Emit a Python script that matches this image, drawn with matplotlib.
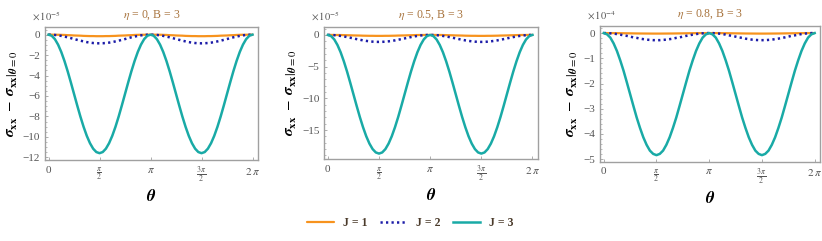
import numpy as np
import matplotlib
matplotlib.use("Agg")
import matplotlib.pyplot as plt
from matplotlib.ticker import AutoMinorLocator

plt.rcParams['font.family'] = ['Liberation Serif', 'DejaVu Serif']
plt.rcParams['mathtext.fontset'] = 'stix'

# theta sampled every pi/32 over [0, 2pi]  (65 points)
theta = np.arange(65) * np.pi / 32

# panel 1: eta = 0 (units of 1e-5)
p1_j1 = [0, 0, -0.01, -0.01, -0.02, -0.03, -0.05, -0.06, -0.08, -0.09, -0.10, -0.12, -0.13, -0.14, -0.14, -0.15, -0.15,
         -0.15, -0.14, -0.14, -0.13, -0.12, -0.10, -0.09, -0.08, -0.06, -0.05, -0.03, -0.02, -0.01, -0.01, 0, 0,
         0, -0.01, -0.01, -0.02, -0.03, -0.05, -0.06, -0.08, -0.09, -0.10, -0.12, -0.13, -0.14, -0.14, -0.15, -0.15,
         -0.15, -0.14, -0.14, -0.13, -0.12, -0.10, -0.09, -0.08, -0.06, -0.05, -0.03, -0.02, -0.01, -0.01, 0, 0]
p1_j2 = [0, -0.01, -0.03, -0.07, -0.12, -0.19, -0.26, -0.34, -0.43, -0.51, -0.59, -0.66, -0.73, -0.78, -0.82, -0.84, -0.85,
         -0.84, -0.82, -0.78, -0.73, -0.66, -0.59, -0.51, -0.43, -0.34, -0.26, -0.19, -0.12, -0.07, -0.03, -0.01, 0,
         -0.01, -0.03, -0.07, -0.12, -0.19, -0.26, -0.34, -0.43, -0.51, -0.59, -0.66, -0.73, -0.78, -0.82, -0.84, -0.85,
         -0.84, -0.82, -0.78, -0.73, -0.66, -0.59, -0.51, -0.43, -0.34, -0.26, -0.19, -0.12, -0.07, -0.03, -0.01, 0]
p1_j3 = [0, -0.11, -0.44, -0.98, -1.70, -2.58, -3.58, -4.67, -5.80, -6.93, -8.02, -9.02, -9.90, -10.62, -11.16, -11.49, -11.60,
         -11.49, -11.16, -10.62, -9.90, -9.02, -8.02, -6.93, -5.80, -4.67, -3.58, -2.58, -1.70, -0.98, -0.44, -0.11, 0,
         -0.11, -0.44, -0.98, -1.70, -2.58, -3.58, -4.67, -5.80, -6.93, -8.02, -9.02, -9.90, -10.62, -11.16, -11.49, -11.60,
         -11.49, -11.16, -10.62, -9.90, -9.02, -8.02, -6.93, -5.80, -4.67, -3.58, -2.58, -1.70, -0.98, -0.44, -0.11, 0]

# panel 2: eta = 0.5 (units of 1e-5)
p2_j1 = [0, 0, -0.01, -0.01, -0.02, -0.03, -0.05, -0.06, -0.08, -0.09, -0.10, -0.12, -0.13, -0.14, -0.14, -0.15, -0.15,
         -0.15, -0.14, -0.14, -0.13, -0.12, -0.10, -0.09, -0.08, -0.06, -0.05, -0.03, -0.02, -0.01, -0.01, 0, 0,
         0, -0.01, -0.01, -0.02, -0.03, -0.05, -0.06, -0.08, -0.09, -0.10, -0.12, -0.13, -0.14, -0.14, -0.15, -0.15,
         -0.15, -0.14, -0.14, -0.13, -0.12, -0.10, -0.09, -0.08, -0.06, -0.05, -0.03, -0.02, -0.01, -0.01, 0, 0]
p2_j2 = [0, -0.01, -0.04, -0.09, -0.16, -0.24, -0.34, -0.44, -0.55, -0.66, -0.76, -0.86, -0.94, -1.01, -1.06, -1.09, -1.10,
         -1.09, -1.06, -1.01, -0.94, -0.86, -0.76, -0.66, -0.55, -0.44, -0.34, -0.24, -0.16, -0.09, -0.04, -0.01, 0,
         -0.01, -0.04, -0.09, -0.16, -0.24, -0.34, -0.44, -0.55, -0.66, -0.76, -0.86, -0.94, -1.01, -1.06, -1.09, -1.10,
         -1.09, -1.06, -1.01, -0.94, -0.86, -0.76, -0.66, -0.55, -0.44, -0.34, -0.24, -0.16, -0.09, -0.04, -0.01, 0]
p2_j3 = [0, -0.18, -0.71, -1.58, -2.74, -4.16, -5.77, -7.53, -9.35, -11.17, -12.93, -14.54, -15.96, -17.12, -17.99, -18.52, -18.70,
         -18.52, -17.99, -17.12, -15.96, -14.54, -12.93, -11.17, -9.35, -7.53, -5.77, -4.16, -2.74, -1.58, -0.71, -0.18, 0,
         -0.18, -0.71, -1.58, -2.74, -4.16, -5.77, -7.53, -9.35, -11.17, -12.93, -14.54, -15.96, -17.12, -17.99, -18.52, -18.70,
         -18.52, -17.99, -17.12, -15.96, -14.54, -12.93, -11.17, -9.35, -7.53, -5.77, -4.16, -2.74, -1.58, -0.71, -0.18, 0]

# panel 3: eta = 0.8 (units of 1e-4)
p3_j1 = [0, 0, 0, 0, -0.003, -0.004, -0.006, -0.008, -0.010, -0.012, -0.014, -0.016, -0.017, -0.018, -0.019, -0.020, -0.020,
         -0.020, -0.019, -0.018, -0.017, -0.016, -0.014, -0.012, -0.010, -0.008, -0.006, -0.004, -0.003, 0, 0, 0, 0,
         0, 0, 0, -0.003, -0.004, -0.006, -0.008, -0.010, -0.012, -0.014, -0.016, -0.017, -0.018, -0.019, -0.020, -0.020,
         -0.020, -0.019, -0.018, -0.017, -0.016, -0.014, -0.012, -0.010, -0.008, -0.006, -0.004, -0.003, 0, 0, 0, 0]
p3_j2 = [0, 0, -0.01, -0.02, -0.04, -0.06, -0.09, -0.11, -0.14, -0.17, -0.19, -0.22, -0.24, -0.26, -0.27, -0.28, -0.28,
         -0.28, -0.27, -0.26, -0.24, -0.22, -0.19, -0.17, -0.14, -0.11, -0.09, -0.06, -0.04, -0.02, -0.01, 0, 0,
         0, -0.01, -0.02, -0.04, -0.06, -0.09, -0.11, -0.14, -0.17, -0.19, -0.22, -0.24, -0.26, -0.27, -0.28, -0.28,
         -0.28, -0.27, -0.26, -0.24, -0.22, -0.19, -0.17, -0.14, -0.11, -0.09, -0.06, -0.04, -0.02, -0.01, 0, 0]
p3_j3 = [0, -0.05, -0.18, -0.41, -0.71, -1.08, -1.49, -1.95, -2.42, -2.89, -3.35, -3.76, -4.13, -4.43, -4.66, -4.79, -4.84,
         -4.79, -4.66, -4.43, -4.13, -3.76, -3.35, -2.89, -2.42, -1.95, -1.49, -1.08, -0.71, -0.41, -0.18, -0.05, 0,
         -0.05, -0.18, -0.41, -0.71, -1.08, -1.49, -1.95, -2.42, -2.89, -3.35, -3.76, -4.13, -4.43, -4.66, -4.79, -4.84,
         -4.79, -4.66, -4.43, -4.13, -3.76, -3.35, -2.89, -2.42, -1.95, -1.49, -1.08, -0.71, -0.41, -0.18, -0.05, 0]

titles = [r"$\eta$ = 0, B = 3", r"$\eta$ = 0.5, B = 3", r"$\eta$ = 0.8, B = 3"]
scales = [r"$\times\,10^{-5}$", r"$\times\,10^{-5}$", r"$\times\,10^{-4}$"]
series = [(p1_j1, p1_j2, p1_j3), (p2_j1, p2_j2, p2_j3), (p3_j1, p3_j2, p3_j3)]
yticks = [[0, -2, -4, -6, -8, -10, -12], [0, -5, -10, -15], [0, -1, -2, -3, -4, -5]]
ylims = [(-12.27, 0.75), (-19.6, 1.25), (-5.1, 0.28)]
minors = [4, 5, 5]
xticks = [0, np.pi / 2, np.pi, 3 * np.pi / 2, 2 * np.pi]
xticklabels = ["0", r"$\frac{\pi}{2}$", r"$\pi$", r"$\frac{3\,\pi}{2}$", r"$2\;\pi$"]
labels = ["J = 1", "J = 2", "J = 3"]

c_orange = "#f7931e"
c_blue = "#1c1ca8"
c_teal = "#19aaa6"
frame_col = "#a0a0a0"
tick_col = "#555555"
title_col = "#a8743e"

# axes rectangles, figure fraction
rects = [[0.0547, 0.336, 0.2588, 0.552],
         [0.3945, 0.339, 0.2596, 0.549],
         [0.7300, 0.329, 0.2676, 0.563]]

fig = plt.figure(figsize=(8.22, 2.41), dpi=100)

handles = None
for i in range(3):
    ax = fig.add_axes(rects[i])
    j1, j2, j3 = series[i]
    h1, = ax.plot(theta, j1, color=c_orange, lw=1.6, solid_capstyle='round')
    h2, = ax.plot(theta, j2, color=c_blue, lw=1.8, ls=(0, (0.9, 1.3)))
    h3, = ax.plot(theta, j3, color=c_teal, lw=1.8)
    handles = [h1, h2, h3]

    ax.set_xlim(-0.11, 2 * np.pi + 0.16)
    ax.set_ylim(*ylims[i])
    ax.set_xticks(xticks)
    ax.set_xticklabels(xticklabels)
    ax.set_yticks(yticks[i])
    ax.set_yticklabels([("\u2212" + str(-t)) if t < 0 else str(t) for t in yticks[i]])
    ax.yaxis.set_minor_locator(AutoMinorLocator(minors[i]))
    ax.tick_params(which='both', direction='in', colors=frame_col, labelcolor=tick_col,
                   labelsize=8, top=False, right=False)
    ax.tick_params(which='major', length=2.5, width=0.6)
    ax.tick_params(which='minor', length=1.5, width=0.5)
    ax.tick_params(axis='x', pad=4)
    for sp in ax.spines.values():
        sp.set_color(frame_col)
        sp.set_linewidth(1.0)

    ax.set_title(titles[i], color=title_col, fontsize=8.5, pad=7)
    ax.text(-0.06, 1.03, scales[i], transform=ax.transAxes, fontsize=7.5,
            color=tick_col, ha='left', va='bottom')
    ax.set_xlabel(r"$\boldsymbol{\theta}$", fontsize=12, labelpad=3)
    ax.set_ylabel(r"$\left.\boldsymbol{\sigma}_{\mathbf{xx}}\ -\ \boldsymbol{\sigma}_{\mathbf{xx}}\right|_{\boldsymbol{\theta}=0}$",
                  fontsize=11, labelpad=3)

leg = fig.legend(handles, labels, loc='center', bbox_to_anchor=(0.499, 0.075), ncol=3,
                 frameon=False, handlelength=2.3, columnspacing=1.1, handletextpad=0.7,
                 prop={'weight': 'bold', 'size': 8.5})
for t in leg.get_texts():
    t.set_color("#4a3a2a")

fig.savefig("out.png", dpi=100)
